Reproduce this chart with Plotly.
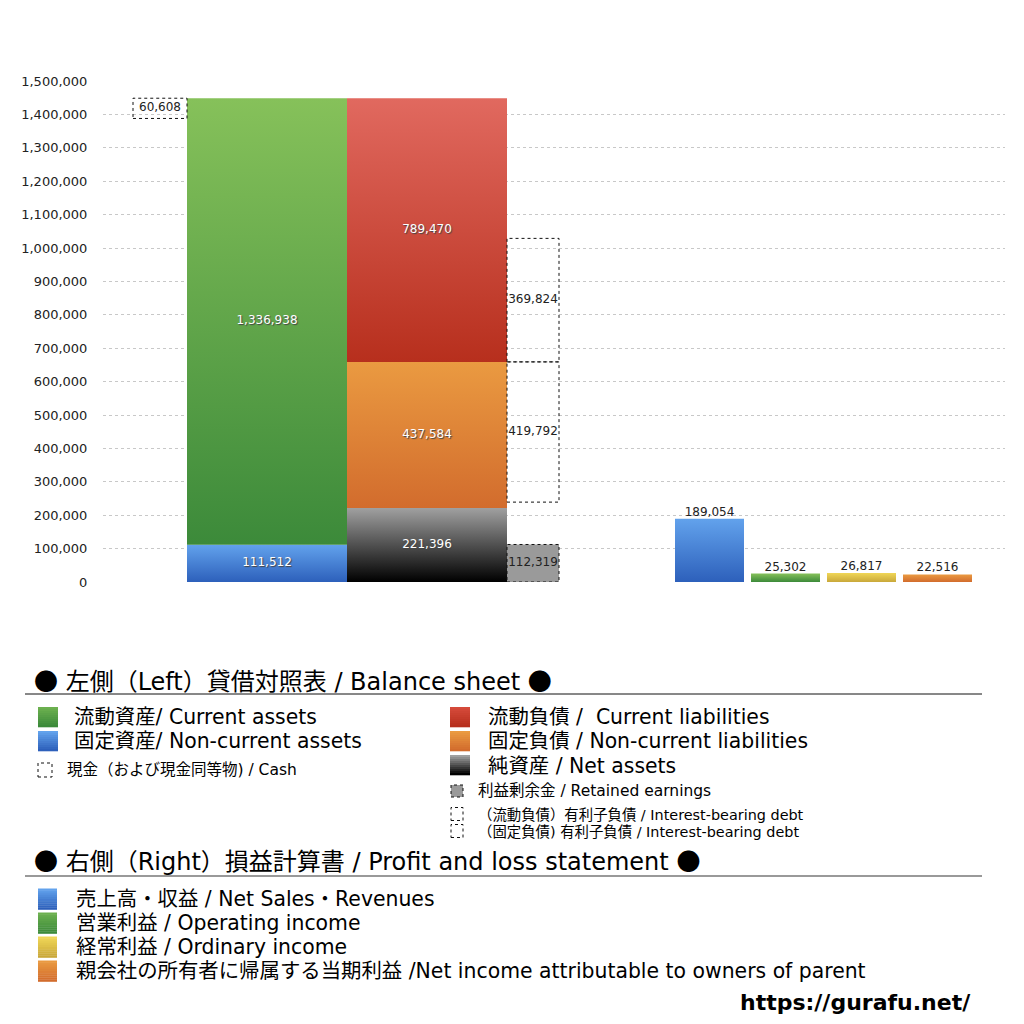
import plotly.graph_objects as go

# ---------------- data ----------------
bs_asset_labels = ["流動資産", "固定資産"]
bs_assets = [1336938, 111512]          # current, non-current
bs_liab_labels = ["流動負債", "固定負債", "純資産"]
bs_liabilities = [789470, 437584, 221396]  # current liab, non-current liab, net assets
cash = 60608
retained_earnings = 112319
ibd_current = 369824
ibd_noncurrent = 419792
pl_labels = ["売上高・収益", "営業利益", "経常利益", "親会社株主に帰属する当期純利益"]
pl_values = [189054, 25302, 26817, 22516]
y_ticks = list(range(0, 1500001, 100000))

# ---------------- layout constants ----------------
FONT = "DejaVu Sans, Noto Sans CJK JP"
CJK = "Noto Sans CJK JP"
OFF = 8  # page body margin
X0, X1 = 103, 1005        # screen px of plot area left/right
Y0PX, Y1PX = 582, 81      # screen px of y=0 and y=1.5M
L, R, T, B = X0 - OFF, 1024 - X1 + OFF, Y1PX - OFF, 1024 - Y0PX + OFF


def px(x):
    return (x - X0) / (X1 - X0)


def py(y):
    return (Y0PX - y) / (Y0PX - Y1PX)


fig = go.Figure()


def grad_bar(x0, x1, base, top, c_top, c_bot):
    fig.add_trace(go.Scatter(
        x=[x0, x1, x1, x0, x0], y=[base, base, top, top, base],
        mode="lines", fill="toself", line=dict(width=0),
        fillgradient=dict(type="vertical", colorscale=[[0, c_bot], [1, c_top]],
                          start=base, stop=top),
        hoverinfo="skip", showlegend=False))


def dash_box(x0, x1, base, top, fill=None):
    fig.add_trace(go.Scatter(
        x=[x0, x1, x1, x0, x0], y=[base, base, top, top, base],
        mode="lines", fill="toself" if fill else "none",
        fillcolor=fill if fill else "rgba(0,0,0,0)",
        line=dict(color="#111", width=1, dash="dot"),
        hoverinfo="skip", showlegend=False))


def label(x, y, v, color="#222", pos="middle center", shadow=False):
    tf = dict(family=FONT, size=12, color=color)
    if shadow:
        tf["shadow"] = "1px 1px 1px #444"
    fig.add_trace(go.Scatter(x=[x], y=[y], mode="text", text=[f"{v:,}"],
                             textposition=pos, textfont=tf,
                             hoverinfo="skip", showlegend=False))


# positions (screen-px x units)
AX0, AX1 = 187, 347
LX0, LX1 = 347, 507
DX0, DX1 = 507, 559
CX0, CX1 = 133, 187

cur_a, noncur_a = bs_assets
cur_l, noncur_l, net_a = bs_liabilities
total = cur_a + noncur_a

# assets
grad_bar(AX0, AX1, 0, noncur_a, "#62a2ec", "#2d60bb")
grad_bar(AX0, AX1, noncur_a, total, "#86c15a", "#3c8a3a")
# liabilities + net assets
grad_bar(LX0, LX1, 0, net_a, "#a0a0a0", "#000000")
grad_bar(LX0, LX1, net_a, net_a + noncur_l, "#ea9a41", "#d26c2d")
grad_bar(LX0, LX1, net_a + noncur_l, net_a + noncur_l + cur_l, "#e1695f", "#b72f1d")

# dashed boxes
dash_box(CX0, CX1, total - cash, total)
top_ncl = net_a + noncur_l
dash_box(DX0, DX1, top_ncl - ibd_noncurrent, top_ncl)
dash_box(DX0, DX1, top_ncl, top_ncl + ibd_current)
dash_box(DX0, DX1, 0, retained_earnings, fill="#9a9a9a")

# labels
label((AX0 + AX1) / 2, noncur_a + cur_a / 2, cur_a, "white", shadow=True)
label((AX0 + AX1) / 2, noncur_a / 2, noncur_a, "white", shadow=True)
label((LX0 + LX1) / 2, top_ncl + cur_l / 2, cur_l, "white", shadow=True)
label((LX0 + LX1) / 2, net_a + noncur_l / 2, noncur_l, "white", shadow=True)
label((LX0 + LX1) / 2, net_a / 2, net_a, "white", shadow=True)
label((DX0 + DX1) / 2, top_ncl + ibd_current / 2, ibd_current)
label((DX0 + DX1) / 2, top_ncl - ibd_noncurrent / 2, ibd_noncurrent)
label((DX0 + DX1) / 2, retained_earnings / 2, retained_earnings)
label((CX0 + CX1) / 2, total - cash / 2, cash)

# P&L bars
pl_x = [675, 751, 827, 903]
pl_w = 69
pl_cols = [("#62a2ec", "#2d60bb"), ("#86c15a", "#3c8a3a"),
           ("#f0d657", "#c9a83a"), ("#ea9a41", "#d26c2d")]
for xs, v, (ct, cb) in zip(pl_x, pl_values, pl_cols):
    grad_bar(xs, xs + pl_w, 0, v, ct, cb)
    label(xs + pl_w / 2, v, v, pos="top center")

# ---------------- legend (drawn as annotations/shapes) ----------------
ann = []
shapes = []


def text(x, y, s, size, bold=False, anchor="left", color="black"):
    ann.append(dict(x=px(x), y=py(y), xref="paper", yref="paper",
                    text=(f"<b>{s}</b>" if bold else s),
                    showarrow=False, xanchor=anchor, yanchor="middle", align="left",
                    borderpad=0,
                    font=dict(family=FONT, size=size, color=color)))


def mix(a, b, t):
    a = [int(a[i:i + 2], 16) for i in (1, 3, 5)]
    b = [int(b[i:i + 2], 16) for i in (1, 3, 5)]
    return "rgb(%d,%d,%d)" % tuple(round(a[k] + (b[k] - a[k]) * t) for k in range(3))


def gsquare(x0, x1, yc, h, ctop, cbot, n=10):
    y0 = yc - h / 2
    step = h / n
    for i in range(n):
        shapes.append(dict(type="rect", xref="paper", yref="paper",
                           x0=px(x0), x1=px(x1), y0=py(y0 + i * step),
                           y1=py(y0 + (i + 1) * step + 0.3),
                           fillcolor=mix(ctop, cbot, i / (n - 1)), line=dict(width=0)))


def dsquare(x0, x1, yc, h, fill="rgba(0,0,0,0)"):
    shapes.append(dict(type="rect", xref="paper", yref="paper",
                       x0=px(x0), x1=px(x1), y0=py(yc + h / 2), y1=py(yc - h / 2),
                       fillcolor=fill, line=dict(color="#111", width=1, dash="dot")))


def hline(y, color, w):
    shapes.append(dict(type="line", xref="paper", yref="paper",
                       x0=px(25), x1=px(982), y0=py(y), y1=py(y),
                       line=dict(color=color, width=w)))


DOT = f'<span style="font-family:{CJK}">●</span>'

text(33, 679, f"{DOT} 左側（Left）貸借対照表 / Balance sheet {DOT}", 24)
hline(694, "#111", 1)

text(73, 717, "流動資産/ Current assets", 20.4)
gsquare(38, 58, 717, 20, "#6cb04f", "#3c8a3a")
text(73, 741, "固定資産/ Non-current assets", 20.4)
gsquare(38, 58, 741, 20, "#62a2ec", "#2d60bb")
text(66, 770, "現金（および現金同等物) / Cash", 15.5)
dsquare(38, 52, 770, 14)

text(487, 717, "流動負債 /  Current liabilities", 20.4)
gsquare(450, 470, 717, 20, "#d54a3a", "#b72f1d")
text(487, 741, "固定負債 / Non-current liabilities", 20.4)
gsquare(450, 470, 741, 20, "#ea9a41", "#d26c2d")
text(487, 766, "純資産 / Net assets", 20.4)
gsquare(450, 470, 765, 20, "#a0a0a0", "#000000")
text(477, 791, "利益剰余金 / Retained earnings", 15.5)
dsquare(451, 463, 791, 12, fill="#9a9a9a")
text(477, 815, "（流動負債）有利子負債 / Interest-bearing debt", 14.4)
dsquare(451, 463, 814, 13)
text(477, 832, "（固定負債) 有利子負債 / Interest-bearing debt", 14.4)
dsquare(451, 463, 831, 13)

text(33, 859, f"{DOT} 右側（Right）損益計算書 / Profit and loss statement {DOT}", 24)
hline(876, "#777", 1.5)

pl_rows = ["売上高・収益 / Net Sales・Revenues",
           "営業利益 / Operating income",
           "経常利益 / Ordinary income",
           "親会社の所有者に帰属する当期利益 /Net income attributable to owners of parent"]
pl_sq = [("#62a2ec", "#2d60bb"), ("#6cb04f", "#3c8a3a"), ("#f0d657", "#c9a83a"), ("#ea9a41", "#d26c2d")]
for yc, s, (ct, cb) in zip([899, 923, 947, 971], pl_rows, pl_sq):
    text(75, yc, s, 20.4)
    gsquare(38, 57, yc, 21, ct, cb)

text(972, 1002, "https://gurafu.net/", 22, bold=True, anchor="right")

fig.update_layout(
    width=1024, height=1024,
    margin=dict(l=L, r=R, t=T, b=B, autoexpand=False),
    paper_bgcolor="white", plot_bgcolor="white",
    showlegend=False,
    font=dict(family=FONT, color="#222"),
    xaxis=dict(range=[X0, X1], visible=False, fixedrange=True),
    yaxis=dict(range=[0, 1500000], tickvals=y_ticks, tickformat=",",
               showgrid=True, gridcolor="#c8c8c8", griddash="dot", gridwidth=1,
               zeroline=False, showline=False,
               ticks="outside", ticklen=12, tickcolor="rgba(0,0,0,0)",
               tickfont=dict(family=FONT, size=13, color="#222")),
    annotations=ann, shapes=shapes,
)

fig.write_html("out.html")
